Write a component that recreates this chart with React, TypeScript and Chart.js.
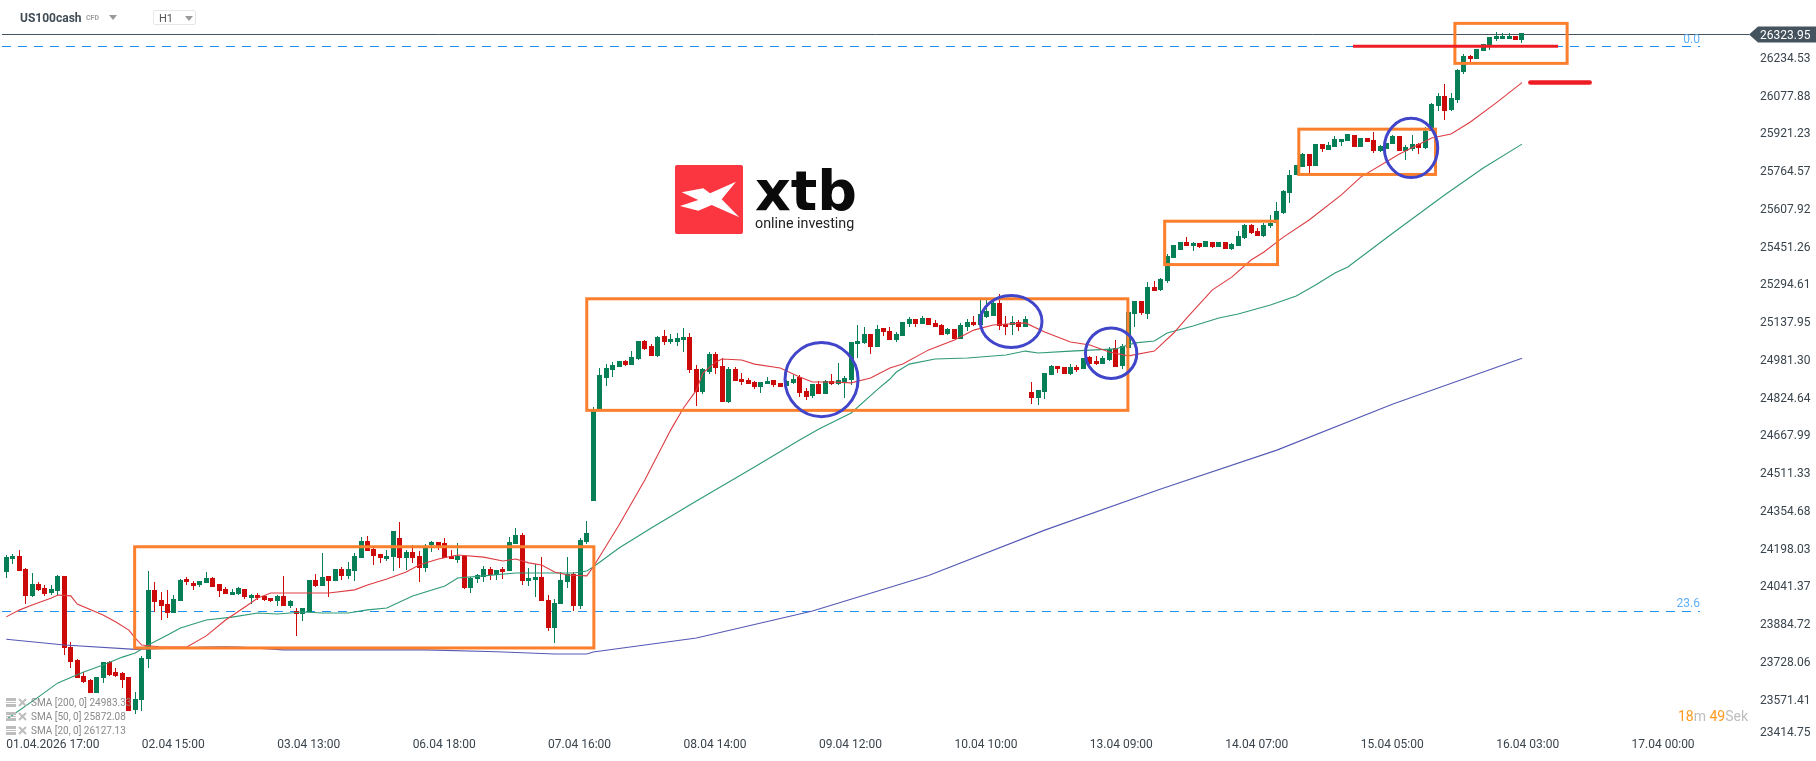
import { useEffect, useRef } from "react";
import { Chart, registerables } from "chart.js";

Chart.register(...registerables);

const WIDTH = 1816;
const HEIGHT = 761;

const opens = [
  24096, 24150, 24163, 24109, 23997, 24046, 24030, 24008, 24017, 24080,
  23785, 23731, 23665, 23648, 23594, 23656, 23723, 23681, 23677, 23661,
  23524, 23565, 23735, 24022, 23980, 23963, 23926, 23976, 24067, 24051,
  24042, 24051, 24071, 24046, 24026, 24001, 24005, 24026, 23988, 24001,
  23997, 23988, 23976, 23997, 23955, 23933, 23922, 23930, 24063, 24038,
  24080, 24059, 24109, 24080, 24100, 24154, 24225, 24192, 24171, 24150,
  24158, 24237, 24154, 24179, 24163, 24113, 24208, 24221, 24217, 24163,
  24146, 24163, 24030, 24067, 24075, 24109, 24084, 24109, 24100, 24212,
  24250, 24059, 24063, 24075, 23980, 23864, 23964, 24055, 24088, 23955,
  24221, 24391, 24773, 24901, 24935, 24947, 24972, 24955, 24980, 25055,
  25034, 24993, 25076, 25051, 25051, 25059, 25071, 24939, 24843, 24926,
  25001, 24951, 24802, 24939, 24897, 24893, 24885, 24864, 24876, 24893,
  24881, 24868, 24881, 24905, 24847, 24827, 24876, 24835, 24889, 24876,
  24885, 24893, 25042, 25047, 25084, 25030, 25109, 25096, 25059, 25076,
  25125, 25146, 25125, 25150, 25130, 25121, 25084, 25105, 25063, 25113,
  25134, 25121, 25154, 25159, 25213, 25125, 25121, 25134, 25113, 24843,
  24818, 24843, 24914, 24951, 24947, 24918, 24947, 24939, 24988, 24972,
  24959, 24976, 25026, 24951, 25026, 25167, 25221, 25167, 25279, 25267,
  25304, 25399, 25433, 25466, 25449, 25462, 25445, 25466, 25445, 25466,
  25437, 25449, 25482, 25536, 25511, 25491, 25532, 25545, 25586, 25671,
  25744, 25778, 25831, 25781, 25873, 25848, 25860, 25881, 25885, 25910,
  25860, 25897, 25889, 25843, 25852, 25873, 25906, 25843, 25852, 25873,
  25856, 25926, 26030, 26072, 26014, 26055, 26171, 26238, 26225, 26258,
  26283, 26308, 26308, 26308, 26321, 26304,
];

const closes = [
  24158, 24163, 24100, 23997, 24046, 24022, 24005, 24026, 24080, 23781,
  23723, 23658, 23640, 23594, 23661, 23723, 23669, 23665, 23648, 23520,
  23569, 23739, 24022, 23972, 23955, 23926, 23984, 24063, 24055, 24038,
  24059, 24071, 24034, 24017, 24005, 24013, 24030, 23992, 24001, 23988,
  23980, 23976, 23997, 23955, 23976, 23923, 23947, 24063, 24038, 24075,
  24059, 24109, 24080, 24109, 24163, 24225, 24183, 24163, 24154, 24163,
  24266, 24154, 24179, 24154, 24113, 24196, 24221, 24196, 24154, 24150,
  24163, 24030, 24071, 24084, 24109, 24084, 24105, 24096, 24221, 24250,
  24059, 24071, 24075, 23976, 23864, 23968, 24063, 24088, 23955, 24229,
  24258, 24774, 24914, 24943, 24955, 24972, 24955, 24988, 25055, 25022,
  24993, 25071, 25051, 25063, 25067, 25071, 24935, 24843, 24939, 25001,
  24943, 24802, 24939, 24889, 24885, 24876, 24864, 24885, 24889, 24872,
  24864, 24889, 24897, 24839, 24822, 24876, 24835, 24889, 24876, 24893,
  24901, 25051, 25055, 25084, 25030, 25105, 25092, 25059, 25084, 25134,
  25146, 25125, 25150, 25121, 25113, 25080, 25105, 25063, 25121, 25134,
  25121, 25167, 25179, 25213, 25117, 25113, 25134, 25113, 25146, 24818,
  24852, 24922, 24951, 24939, 24918, 24947, 24935, 24984, 24959, 24959,
  24984, 25022, 24947, 25034, 25175, 25221, 25171, 25279, 25262, 25312,
  25408, 25453, 25466, 25449, 25462, 25445, 25470, 25445, 25466, 25437,
  25457, 25491, 25536, 25503, 25491, 25536, 25545, 25594, 25677, 25744,
  25785, 25831, 25783, 25873, 25852, 25868, 25893, 25893, 25914, 25860,
  25897, 25881, 25843, 25864, 25877, 25906, 25843, 25860, 25873, 25856,
  25926, 26038, 26072, 26009, 26063, 26180, 26238, 26225, 26267, 26287,
  26316, 26321, 26321, 26321, 26304, 26333,
];

const highs = [
  24167, 24171, 24188, 24113, 24092, 24055, 24042, 24042, 24084, 24080,
  23806, 23735, 23681, 23652, 23661, 23723, 23727, 23698, 23681, 23661,
  23598, 23748, 24100, 24055, 24013, 24022, 24001, 24067, 24075, 24059,
  24059, 24096, 24075, 24046, 24034, 24026, 24034, 24026, 24005, 24009,
  24001, 23988, 24001, 24080, 23980, 23947, 23947, 24063, 24088, 24175,
  24080, 24109, 24117, 24138, 24175, 24241, 24246, 24200, 24171, 24188,
  24266, 24304, 24188, 24208, 24183, 24212, 24225, 24221, 24237, 24188,
  24217, 24167, 24075, 24088, 24121, 24117, 24105, 24117, 24241, 24279,
  24258, 24113, 24129, 24158, 24001, 23984, 24096, 24158, 24096, 24237,
  24308, 24780, 24943, 24959, 24968, 24972, 24976, 25013, 25055, 25059,
  25042, 25076, 25101, 25084, 25088, 25109, 25088, 24955, 24943, 25009,
  25009, 24984, 24947, 24947, 24922, 24901, 24889, 24885, 24905, 24893,
  24881, 24893, 24914, 24914, 24860, 24876, 24889, 24893, 24918, 24964,
  24910, 25051, 25121, 25113, 25084, 25121, 25109, 25113, 25092, 25134,
  25154, 25146, 25159, 25150, 25142, 25125, 25109, 25105, 25130, 25146,
  25159, 25225, 25225, 25233, 25250, 25159, 25159, 25142, 25159, 24885,
  24852, 24922, 24955, 24951, 24947, 24959, 24955, 24984, 24993, 24993,
  24993, 25030, 25059, 25042, 25175, 25221, 25221, 25300, 25304, 25316,
  25416, 25453, 25466, 25486, 25466, 25462, 25470, 25466, 25466, 25466,
  25462, 25511, 25540, 25540, 25524, 25545, 25578, 25632, 25681, 25765,
  25785, 25835, 25831, 25873, 25873, 25881, 25906, 25893, 25914, 25910,
  25897, 25897, 25922, 25868, 25877, 25910, 25906, 25868, 25910, 25877,
  25943, 26043, 26084, 26121, 26084, 26184, 26246, 26242, 26267, 26287,
  26316, 26337, 26333, 26333, 26321, 26333,
];

const lows = [
  24071, 24129, 24100, 23963, 23992, 24017, 23997, 24001, 24001, 23752,
  23698, 23658, 23636, 23594, 23594, 23636, 23665, 23661, 23615, 23520,
  23507, 23520, 23698, 23930, 23897, 23905, 23926, 23976, 24042, 24022,
  24034, 24051, 24034, 23992, 24005, 24001, 24001, 23984, 23963, 23980,
  23976, 23972, 23955, 23955, 23947, 23831, 23893, 23930, 24034, 24038,
  23993, 24059, 24063, 24067, 24059, 24154, 24183, 24125, 24134, 24142,
  24100, 24113, 24105, 24134, 24055, 24096, 24179, 24188, 24154, 24150,
  24134, 24026, 24009, 24051, 24055, 24063, 24063, 24067, 24100, 24212,
  24042, 24038, 23993, 23976, 23851, 23802, 23964, 24030, 23934, 23943,
  24212, 24391, 24773, 24868, 24906, 24947, 24951, 24955, 24976, 25018,
  24993, 24988, 25038, 25042, 25034, 25009, 24922, 24785, 24835, 24918,
  24918, 24802, 24798, 24889, 24872, 24876, 24856, 24839, 24876, 24864,
  24864, 24868, 24876, 24822, 24810, 24818, 24835, 24835, 24872, 24872,
  24818, 24872, 24984, 25042, 25001, 25030, 25076, 25059, 25051, 25076,
  25113, 25113, 25125, 25121, 25113, 25080, 25080, 25063, 25063, 25096,
  25117, 25121, 25150, 25159, 25101, 25080, 25080, 25096, 25113, 24793,
  24789, 24814, 24914, 24922, 24918, 24914, 24926, 24939, 24959, 24955,
  24959, 24972, 24947, 24939, 25026, 25113, 25163, 25146, 25262, 25262,
  25296, 25399, 25433, 25449, 25428, 25441, 25445, 25441, 25445, 25437,
  25433, 25449, 25478, 25499, 25491, 25486, 25524, 25545, 25582, 25628,
  25744, 25778, 25751, 25781, 25839, 25848, 25860, 25864, 25885, 25860,
  25860, 25881, 25835, 25839, 25852, 25873, 25843, 25806, 25843, 25831,
  25852, 25926, 26009, 25972, 26009, 26043, 26163, 26213, 26225, 26258,
  26263, 26300, 26308, 26308, 26304, 26292,
];

// [bar index, price]
const sma20: [number, number][] = [
  [0, 23910], [2, 23938], [4, 23959], [7, 23988], [8, 24001], [10, 23997], [11, 23963],
  [15, 23918], [17, 23889], [19, 23855], [20, 23822], [21, 23793], [24, 23785], [28, 23785],
  [31, 23831], [34, 23897], [37, 23951], [39, 23988], [41, 24009], [46, 24009], [50, 24009],
  [54, 24022], [56, 24042], [59, 24067], [62, 24096], [64, 24125], [67, 24150], [70, 24167],
  [74, 24158], [77, 24142], [79, 24150], [81, 24134], [83, 24125], [85, 24096], [87, 24084],
  [90, 24080], [91, 24117], [95, 24291], [99, 24478], [103, 24685], [105, 24777], [107, 24851],
  [108, 24922], [110, 24968], [111, 24980], [114, 24976], [116, 24959], [120, 24943], [123, 24905],
  [125, 24885], [128, 24885], [131, 24881], [134, 24901], [137, 24943], [139, 24959], [143, 25018],
  [147, 25059], [150, 25100], [153, 25121], [158, 25130], [161, 25092], [165, 25051], [168, 25038],
  [171, 25009], [174, 24993], [178, 25013], [181, 25088], [183, 25150], [187, 25267], [190, 25320],
  [193, 25391], [195, 25424], [198, 25486], [202, 25557], [207, 25661], [210, 25735], [216, 25831],
  [221, 25897], [224, 25914], [227, 25964], [231, 26043], [235, 26127],
];

const sma50: [number, number][] = [
  [0, 23484], [5, 23578], [8, 23636], [12, 23681], [15, 23710], [18, 23743], [20, 23760],
  [22, 23793], [25, 23835], [27, 23864], [31, 23897], [35, 23909], [39, 23926], [42, 23922],
  [46, 23930], [49, 23926], [53, 23926], [56, 23939], [59, 23947], [63, 23997], [68, 24038],
  [70, 24071], [74, 24080], [79, 24092], [84, 24092], [88, 24092], [90, 24100], [91, 24117],
  [95, 24196], [100, 24279], [107, 24391], [116, 24532], [123, 24644], [126, 24690], [131, 24756],
  [135, 24852], [137, 24897], [138, 24926], [140, 24959], [144, 24980], [149, 24984], [155, 24997],
  [158, 25013], [160, 25005], [165, 25013], [172, 25022], [175, 25047], [178, 25055], [180, 25088],
  [184, 25117], [188, 25150], [191, 25167], [196, 25204], [200, 25242], [203, 25287], [206, 25337],
  [208, 25362], [215, 25503], [223, 25661], [229, 25773], [235, 25872],
];

const sma200: [number, number][] = [
  [0, 23817], [9, 23793], [20, 23775], [31, 23785], [34, 23786], [36, 23785], [43, 23773],
  [65, 23773], [76, 23765], [85, 23756], [90, 23756], [91, 23764], [107, 23822], [125, 23934],
  [143, 24082], [161, 24270], [179, 24441], [197, 24602], [215, 24793], [235, 24983],
];

const timeLabels = [
  "01.04.2026 17:00", "02.04 15:00", "03.04 13:00", "06.04 18:00", "07.04 16:00",
  "08.04 14:00", "09.04 12:00", "10.04 10:00", "13.04 09:00", "14.04 07:00",
  "15.04 05:00", "16.04 03:00", "17.04 00:00",
];
const BARS_PER_LABEL = 21;

const priceLabels = [
  "26234.53", "26077.88", "25921.23", "25764.57", "25607.92", "25451.26", "25294.61",
  "25137.95", "24981.30", "24824.64", "24667.99", "24511.33", "24354.68", "24198.03",
  "24041.37", "23884.72", "23728.06", "23571.41", "23414.75",
];

const lastPriceLabel = "26323.95";
const lastPriceLevel = 26326.8;
const fibLevels = [
  { label: "0.0", price: 26277 },
  { label: "23.6", price: 23932.3 },
];

// x0, x1 in bars, top and bottom in price
const orangeBoxes = [
  [19.9, 91.1, 24201, 23781],
  [90, 173.9, 25230, 24767],
  [179.6, 197.1, 25552, 25372],
  [200.4, 221.6, 25934, 25746],
  [224.6, 242, 26373, 26207],
];

// centre bar, centre price, radius in bars, radius in price
const blueCircles = [
  [126.4, 24895, 5.66, 154],
  [155.8, 25136, 4.78, 108],
  [171.3, 25004, 3.98, 105],
  [217.8, 25856, 4.14, 123],
];

// from bar, to bar, price, line width
const redLevels = [
  [208.8, 240.6, 26278, 3],
  [236.3, 245.5, 26128, 4.5],
];

const GREEN = "#067f57";
const RED = "#cc0a0a";
const TEXT = "#3a444d";

const idx = opens.map((_, i) => i);
const pts = (pairs: [number, number][]) => pairs.map(([x, y]) => ({ x, y }));

// the platform pixel-snaps its candles, chart.js doesn't
const snapBars = {
  id: "snapBars",
  afterDatasetsUpdate(chart: any) {
    chart.data.datasets.forEach((ds: any, i: number) => {
      if (ds.type !== "bar") return;
      const w = ds.label === "wick" ? 1 : 5;
      chart.getDatasetMeta(i).data.forEach((el: any) => {
        el.x = Math.floor(el.x) + 0.5;
        el.width = w;
        el.y = Math.round(el.y);
        el.base = Math.round(el.base);
        if (el.base === el.y) el.base = el.y + 1;
      });
    });
  },
};

const overlays = {
  id: "overlays",
  afterDatasetsDraw(chart: any) {
    const { ctx, scales } = chart;
    const px = (v: number) => scales.x.getPixelForValue(v);
    const py = (v: number) => scales.y.getPixelForValue(v);
    ctx.save();

    ctx.strokeStyle = "#fb7f2d";
    ctx.lineWidth = 3;
    orangeBoxes.forEach(([x0, x1, top, bottom]) => {
      ctx.strokeRect(px(x0), py(top), px(x1) - px(x0), py(bottom) - py(top));
    });

    ctx.strokeStyle = "#4045c9";
    blueCircles.forEach(([cx, cy, rx, ry]) => {
      ctx.beginPath();
      ctx.ellipse(px(cx), py(cy), px(cx + rx) - px(cx), py(cy - ry) - py(cy), 0, 0, Math.PI * 2);
      ctx.stroke();
    });

    ctx.strokeStyle = "#ee1c25";
    redLevels.forEach(([x0, x1, price, w]) => {
      ctx.lineWidth = w;
      ctx.lineCap = w > 3 ? "round" : "butt";
      ctx.beginPath();
      ctx.moveTo(px(x0), py(price));
      ctx.lineTo(px(x1), py(price));
      ctx.stroke();
    });

    // fibo labels sit on top of their dashed lines
    ctx.font = "12px Roboto";
    ctx.fillStyle = "#5fb0fa";
    ctx.textAlign = "right";
    ctx.textBaseline = "middle";
    fibLevels.forEach((f) => ctx.fillText(f.label, 1700, py(f.price) - 7));

    // last price tag
    const y = py(lastPriceLevel);
    ctx.fillStyle = "#45535e";
    ctx.beginPath();
    ctx.moveTo(1749, y);
    ctx.lineTo(1758, y - 8);
    ctx.lineTo(WIDTH, y - 8);
    ctx.lineTo(WIDTH, y + 8);
    ctx.lineTo(1758, y + 8);
    ctx.closePath();
    ctx.fill();
    ctx.fillStyle = "#ffffff";
    ctx.textAlign = "left";
    ctx.fillText(lastPriceLabel, 1760, y + 1.5);
    ctx.restore();
  },
};

function PriceChart() {
  const ref = useRef<HTMLCanvasElement>(null);

  useEffect(() => {
    if (!ref.current) return;
    const chart = new Chart(ref.current, {
      type: "bar",
      data: {
        datasets: [
          {
            type: "line",
            label: "SMA 20",
            data: pts(sma20),
            borderColor: "#dd3c42",
            borderWidth: 1.1,
            pointRadius: 0,
            tension: 0,
            order: 1,
          },
          {
            type: "line",
            label: "SMA 50",
            data: pts(sma50),
            borderColor: "#2f9a78",
            borderWidth: 1.1,
            pointRadius: 0,
            tension: 0,
            order: 1,
          },
          {
            type: "line",
            label: "SMA 200",
            data: pts(sma200),
            borderColor: "#5559b5",
            borderWidth: 1.1,
            pointRadius: 0,
            tension: 0,
            order: 1,
          },
          {
            type: "bar",
            label: "body",
            data: idx.map((i) => ({ x: i, y: [opens[i], closes[i]] })),
            backgroundColor: idx.map((i) => (closes[i] >= opens[i] ? GREEN : RED)),
            grouped: false,
            inflateAmount: 0,
            order: 2,
          },
          {
            type: "bar",
            label: "wick",
            data: idx.map((i) => ({ x: i, y: [lows[i], highs[i]] })),
            backgroundColor: idx.map((i) => (closes[i] >= opens[i] ? GREEN : RED)),
            grouped: false,
            inflateAmount: 0,
            order: 3,
          },
          {
            type: "line",
            label: "last",
            data: [{ x: -0.67, y: lastPriceLevel }, { x: 270.2, y: lastPriceLevel }],
            borderColor: "#45535e",
            borderWidth: 1,
            pointRadius: 0,
            order: 4,
          },
          ...fibLevels.map((f) => ({
            type: "line" as const,
            label: f.label,
            data: [{ x: -0.67, y: f.price }, { x: 262.6, y: f.price }],
            borderColor: "#1e8fee",
            borderWidth: 1,
            borderDash: [9, 7],
            pointRadius: 0,
            order: 4,
          })),
        ] as any,
      },
      options: {
        responsive: false,
        animation: false,
        events: [],
        devicePixelRatio: 1,
        layout: { padding: 0 },
        plugins: { legend: { display: false }, tooltip: { enabled: false } },
        scales: {
          x: {
            type: "linear",
            offset: false,
            min: -0.977,
            max: 270.2,
            grid: { display: false, drawTicks: false },
            border: { display: false },
            afterFit: (s: any) => {
              s.height = 25;
              s.paddingLeft = 0;
              s.paddingRight = 0;
            },
            afterBuildTicks: (s: any) => {
              s.ticks = timeLabels.map((_, i) => ({ value: i * BARS_PER_LABEL }));
            },
            ticks: {
              autoSkip: false,
              maxRotation: 0,
              align: "start",
              padding: 2,
              color: TEXT,
              font: { family: "Roboto", size: 12 },
              callback: (_v: any, i: number) => timeLabels[i],
            },
          },
          y: {
            position: "right",
            min: 23415.6,
            max: 26470,
            grid: { display: false, drawTicks: false },
            border: { display: false },
            afterFit: (s: any) => {
              s.width = 67;
              // plot runs up to the top edge of the canvas
              s.paddingTop = 0;
              s.paddingBottom = 0;
            },
            afterBuildTicks: (s: any) => {
              // labels sit 2px under their level, the bottom one is pushed up to clear the time axis
              s.ticks = priceLabels.map((l) => ({ value: Math.max(Number(l) - 9, 23430) }));
            },
            ticks: {
              autoSkip: false,
              padding: 11,
              color: TEXT,
              font: { family: "Roboto", size: 12 },
              callback: (_v: any, i: number) => priceLabels[i],
            },
          },
        },
      } as any,
      plugins: [snapBars, overlays],
    });
    return () => {
      chart.destroy();
    };
  }, []);

  return <canvas ref={ref} width={WIDTH} height={HEIGHT} style={{ display: "block" }} />;
}

function Arrow({ x, y }: { x: number; y: number }) {
  return (
    <svg style={{ position: "absolute", left: x, top: y }} width={8} height={5}>
      <path d="M0 0H8L4 5Z" fill="#999" />
    </svg>
  );
}

const legendRows = ["SMA [200, 0] 24983.33", "SMA [50, 0] 25872.08", "SMA [20, 0] 26127.13"];

function Logo() {
  return (
    <svg style={{ position: "absolute", left: 640, top: 140 }} width={260} height={110}>
      <rect x={35} y={25} width={68} height={69} rx={2} fill="#fb3640" />
      <path
        d="M41.7 52.3L63.3 48.3L70 53.3L96 41.7L81.7 59.3L99.3 77.3L71.7 65L58.3 70.7L40 66L58.3 60Z"
        fill="#fff"
      />
      <text x={115} y={70} fontFamily="DejaVu Sans" fontWeight="bold" fontSize={55.5} fill="#0a0a0a">
        xtb
      </text>
      <text x={115} y={88} fontFamily="Roboto" fontSize={14.3} fill="#222">
        online investing
      </text>
    </svg>
  );
}

export default function App() {
  return (
    <div
      style={{
        position: "fixed",
        left: 0,
        top: 0,
        width: WIDTH,
        height: HEIGHT,
        overflow: "hidden",
        background: "#fff",
        fontFamily: "Roboto",
      }}
    >
      <PriceChart />
      <Logo />
      <div style={{ position: "absolute", left: 20, top: 11, font: "bold 12px Roboto", color: "#3f4b55" }}>
        US100cash
      </div>
      <div style={{ position: "absolute", left: 86, top: 14, font: "bold 7px Roboto", color: "#a0a0a0" }}>
        CFD
      </div>
      <Arrow x={109} y={15} />
      <div
        style={{
          position: "absolute",
          left: 153,
          top: 10,
          width: 43,
          height: 15,
          border: "1px solid #e6e6e6",
          borderRadius: 2,
          boxSizing: "border-box",
          font: "11px/15px Roboto",
          color: "#555",
          paddingLeft: 5,
        }}
      >
        H1
      </div>
      <Arrow x={185} y={16} />
      {legendRows.map((row, i) => (
        <div
          key={row}
          style={{ position: "absolute", left: 6, top: 696.5 + i * 14, height: 12, display: "flex", alignItems: "center" }}
        >
          <svg width={25} height={11}>
            <path d="M0 1H10V4H0ZM0 5H10V6H0ZM0 7H10V10H0Z" fill="#bdbdbd" />
            <path d="M13 2L20 9M20 2L13 9" stroke="#bdbdbd" strokeWidth={2} />
          </svg>
          <span style={{ font: "10px Roboto", color: "#8a8a8a", whiteSpace: "nowrap" }}>{row}</span>
        </div>
      ))}
      <div style={{ position: "absolute", right: 68, top: 708, font: "14px Roboto", color: "#bdbdbd", whiteSpace: "pre" }}>
        <span style={{ color: "#ff9a1e" }}>18</span>m <span style={{ color: "#ff9a1e" }}>49</span>Sek
      </div>
    </div>
  );
}
